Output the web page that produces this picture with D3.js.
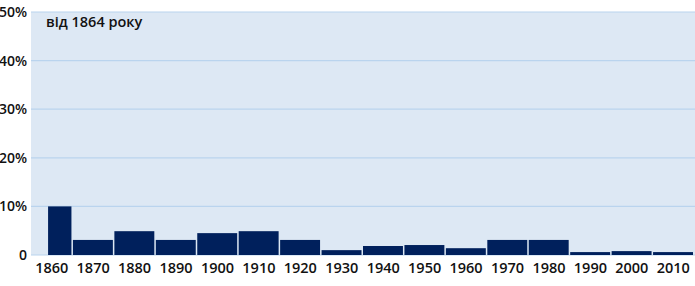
<!DOCTYPE html>
<html>
<head>
<meta charset="utf-8">
<script src="https://cdn.jsdelivr.net/npm/d3@7"></script>
<style>
body { margin: 0; background: #fff; }
svg text { font-family: "Open Sans", "Noto Sans", sans-serif; fill: #111; }
</style>
</head>
<body>
<div class="chart"></div>
<script>
// decade bins, first one starts in 1864
var binStart = [1864,1870,1880,1890,1900,1910,1920,1930,1940,1950,1960,1970,1980,1990,2000,2010]
var binEnd   = [1870,1880,1890,1900,1910,1920,1930,1940,1950,1960,1970,1980,1990,2000,2010,2020]
var values   = [10,3.1,4.9,3.1,4.5,4.9,3.1,1.0,1.85,2.05,1.4,3.1,3.1,0.6,0.8,0.6]
var decadeLabels = ["1860","1870","1880","1890","1900","1910","1920","1930","1940","1950","1960","1970","1980","1990","2000","2010"]
var yTicks = [0,10,20,30,40,50]
var note = "від 1864 року"

var width = 695, height = 286
var padL = 31, padR = 694, padT = 12, padB = 255

var svg = d3.select(".chart").append("svg")
    .attr("width", width)
    .attr("height", height)

var x = d3.scaleLinear().domain([1860, 2020]).range([padL, padR])
var y = d3.scaleLinear().domain([0, 50]).range([padB, padT])

// background
svg.append("rect")
    .attr("x", padL).attr("y", padT)
    .attr("width", width - padL).attr("height", padB - padT)
    .attr("fill", "#dde8f4")

// gridlines
svg.selectAll(".grid")
    .data(yTicks)
    .enter()
    .append("line")
    .attr("x1", padL).attr("x2", width)
    .attr("y1", d => y(d)).attr("y2", d => y(d))
    .attr("stroke", "#bad4ee")
    .attr("stroke-width", 1.2)

// y labels
svg.selectAll(".ylab")
    .data(yTicks)
    .enter()
    .append("text")
    .attr("x", 27)
    .attr("y", d => y(d) + 5)
    .attr("text-anchor", "end")
    .style("font-size", "14px")
    .style("font-weight", 600)
    .text(d => d == 0 ? "0" : d + "%")

// bars
svg.selectAll(".bar")
    .data(values)
    .enter()
    .append("rect")
    .attr("x", (d,i) => x(binStart[i]) + 0.5)
    .attr("width", (d,i) => x(binEnd[i]) - x(binStart[i]) - 1.5)
    .attr("y", d => y(d))
    .attr("height", d => y(0) - y(d))
    .attr("fill", "#00205c")

// x labels at decade centres
svg.selectAll(".xlab")
    .data(decadeLabels)
    .enter()
    .append("text")
    .attr("x", d => x(+d + 5))
    .attr("y", 273)
    .attr("text-anchor", "middle")
    .style("font-size", "14.5px")
    .style("font-weight", 600)
    .text(d => d)

svg.append("text")
    .attr("x", 46)
    .attr("y", 27)
    .style("font-size", "14.5px")
    .style("font-weight", 600)
    .text(note)
</script>
</body>
</html>
